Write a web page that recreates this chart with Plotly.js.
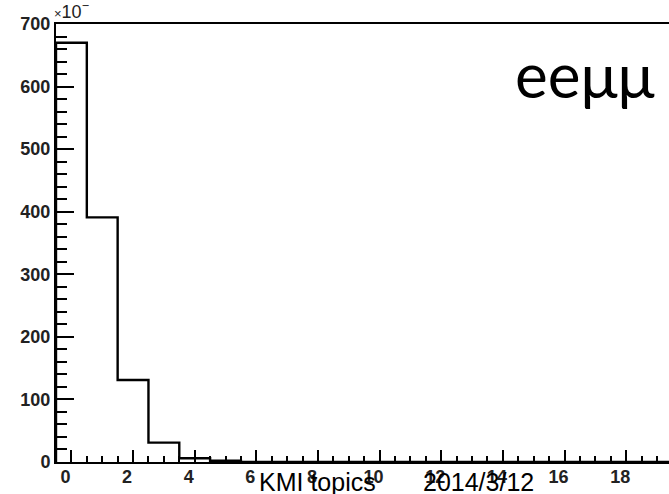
<!DOCTYPE html>
<html>
<head>
<meta charset="utf-8">
<script src="https://cdn.plot.ly/plotly-3.0.1.min.js"></script>
<style>html,body{margin:0;padding:0;background:#fff;}#chart{width:669px;height:494px;}</style>
</head>
<body>
<div id="chart"></div>
<script>
// bin centres and contents (y in units of 10^-3)
var binCenters = [0,1,2,3,4,5,6,7,8,9,10,11,12,13,14,15,16,17,18,19];
var binValues  = [670,391,131,31,6,2,0,0,0,0,0,0,0,0,0,0,0,0,0,0];
var binWidth = 1;
var yTickLabels = ['0','100','200','300','400','500','600','700'];

// build step outline from bins
var sx = [], sy = [];
sx.push(binCenters[0] - binWidth/2); sy.push(0);
for (var i = 0; i < binCenters.length; i++) {
  sx.push(binCenters[i] - binWidth/2); sy.push(binValues[i]);
  sx.push(binCenters[i] + binWidth/2); sy.push(binValues[i]);
}

var trace = {
  x: sx, y: sy, type: 'scatter', mode: 'lines',
  line: {color: '#000', width: 2.4}, hoverinfo: 'skip'
};

var tickFont = {family: 'Liberation Sans, Arial, sans-serif', size: 18, color: '#222', weight: 'bold'};

var layout = {
  width: 669, height: 494,
  margin: {l: 56, r: 0, t: 24, b: 32},
  paper_bgcolor: '#fff', plot_bgcolor: '#fff',
  showlegend: false,
  xaxis: {
    range: [-0.5, 19.39], showgrid: false, zeroline: false,
    showline: true, linecolor: '#000', linewidth: 2, mirror: true,
    ticks: 'inside', ticklen: 12, tickwidth: 2, tickcolor: '#000',
    tick0: 0, dtick: 2, tickfont: tickFont, ticklabelshift: -6, ticklabelstandoff: -3,
    minor: {dtick: 0.5, tick0: 0, ticks: 'inside', ticklen: 6, tickwidth: 2, tickcolor: '#000', showgrid: false}
  },
  yaxis: {
    range: [0, 700], showgrid: false, zeroline: false,
    showline: true, linecolor: '#000', linewidth: 2,
    ticks: 'inside', ticklen: 18, tickwidth: 2, tickcolor: '#000',
    tickmode: 'array', tickvals: [0,100,200,300,400,500,600,700], ticktext: yTickLabels,
    tickfont: tickFont,
    minor: {dtick: 20, tick0: 0, ticks: 'inside', ticklen: 11, tickwidth: 2, tickcolor: '#000', showgrid: false}
  },
  annotations: [
    {xref: 'paper', yref: 'paper', x: -0.006, y: 1.0, xanchor: 'left', yanchor: 'bottom',
     text: '<span style="font-size:13px">×</span>10<sup>−</sup>', showarrow: false,
     font: {family: 'Liberation Sans, Arial, sans-serif', size: 18, color: '#222'}},
    {xref: 'paper', yref: 'paper', x: 0.745, y: 0.886, xanchor: 'left', yanchor: 'middle',
     text: 'eeμμ', showarrow: false,
     font: {family: 'Lato, Noto Sans, sans-serif', size: 62, color: '#000'}},
    {xref: 'paper', yref: 'paper', x: 0.328, y: -0.045, xanchor: 'left', yanchor: 'middle',
     text: 'KMI topics', showarrow: false,
     font: {family: 'Liberation Sans, Arial, sans-serif', size: 25, color: '#000'}},
    {xref: 'paper', yref: 'paper', x: 0.595, y: -0.045, xanchor: 'left', yanchor: 'middle',
     text: '2014/3/12', showarrow: false,
     font: {family: 'Liberation Sans, Arial, sans-serif', size: 25, color: '#000'}}
  ]
};

Plotly.newPlot('chart', [trace], layout, {displayModeBar: false, staticPlot: true});
</script>
</body>
</html>
